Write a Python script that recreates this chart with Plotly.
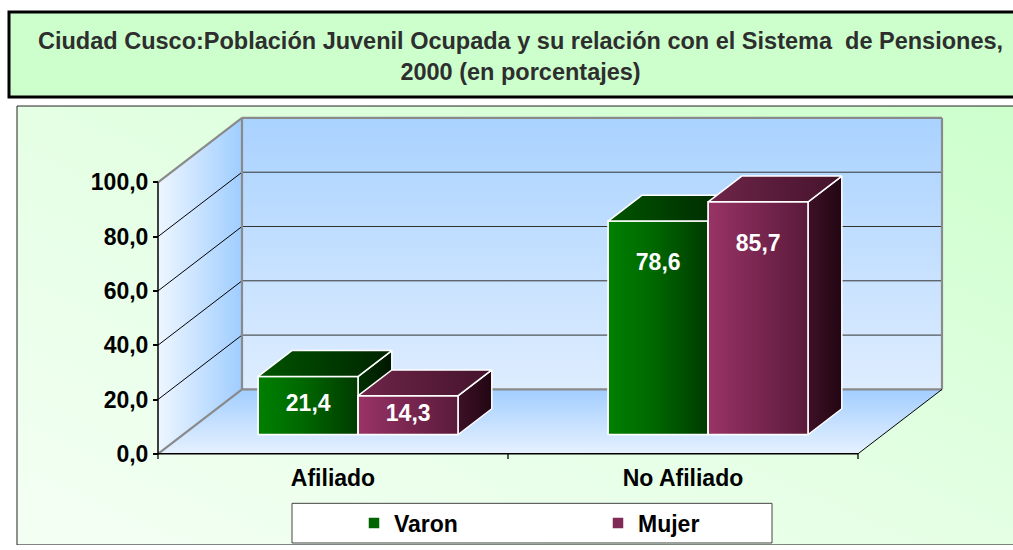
import base64
import plotly.graph_objects as go

# ---------------- data ----------------
categories = ["Afiliado", "No Afiliado"]
series_names = ["Varon", "Mujer"]
varon = [21.4, 78.6]
mujer = [14.3, 85.7]
y_ticks = [0, 20, 40, 60, 80, 100]
y_tick_labels = ["0,0", "20,0", "40,0", "60,0", "80,0", "100,0"]
title_lines = [
    "Ciudad Cusco:Población Juvenil Ocupada y su relación con el Sistema  de Pensiones,",
    "2000 (en porcentajes)",
]

# ---------------- geometry / style ----------------
W = 1013
H_FIG = 545                      # the page adds a few px below the figure
X0_PX, X_UNIT_PX = 158, 350      # front plane: x=0 at 158 px, one category = 350 px
Y0_PX, Y_UNIT_PX = 458, 2.74     # front plane: y=0 at 458 px, 1 % = 2.74 px
X_RANGE = [-0.03, 2.27]
Y_RANGE = [-3.0, 125.0]
DX = 84 / X_UNIT_PX              # depth of the box (x units)
DY = 65 / Y_UNIT_PX              # depth of the box (y units)
BAR_D0, BAR_D1 = 0.3, 0.7        # depth of bar front / back faces
BAR_W = 0.2857
FONT = "Liberation Sans, Arial, sans-serif"
FS = 23
N_CAT = len(categories)
VMAX = y_ticks[-1]


def px_x(v):
    return X0_PX + v * X_UNIT_PX


def px_y(v):
    return Y0_PX - v * Y_UNIT_PX


def fx(p):
    return p / W


def fy(p):
    return 1 - p / H_FIG


dom_x = [fx(px_x(X_RANGE[0])), fx(px_x(X_RANGE[1]))]
dom_y = [fy(px_y(Y_RANGE[0])), fy(px_y(Y_RANGE[1]))]


def P(x, v, d):
    return (x + d * DX, v + d * DY)


def poly(points, axes, grad=None, color=None, line=None):
    xs = [p[0] for p in points] + [points[0][0]]
    ys = [p[1] for p in points] + [points[0][1]]
    kw = dict(x=xs, y=ys, mode="lines", fill="toself", hoverinfo="skip",
              showlegend=False, xaxis=axes[0], yaxis=axes[1],
              line=line or dict(width=0, color="rgba(0,0,0,0)"))
    if grad is not None:
        kw["fillgradient"] = grad
    else:
        kw["fillcolor"] = color
    return go.Scatter(**kw)


def segs(pairs, axes, color, width):
    xs, ys = [], []
    for a, b in pairs:
        xs += [a[0], b[0], None]
        ys += [a[1], b[1], None]
    return go.Scatter(x=xs, y=ys, mode="lines", hoverinfo="skip", showlegend=False,
                      line=dict(color=color, width=width), xaxis=axes[0], yaxis=axes[1])


traces = []
A = ("x", "y")

# ---- walls & floor ----
traces.append(poly([P(0, 0, 0), P(0, 0, 1), P(0, VMAX, 1), P(0, VMAX, 0)], A,
                   grad=dict(type="horizontal", colorscale=[[0, "#eef6ff"], [1, "#9fcdff"]])))
traces.append(poly([P(0, 0, 1), P(N_CAT, 0, 1), P(N_CAT, VMAX, 1), P(0, VMAX, 1)], A,
                   grad=dict(type="vertical", colorscale=[[0, "#deedff"], [1, "#a9d2ff"]])))
traces.append(poly([P(0, 0, 0), P(N_CAT, 0, 0), P(N_CAT, 0, 1), P(0, 0, 1)], A,
                   grad=dict(type="vertical", colorscale=[[0, "#e6f1ff"], [1, "#a2ceff"]])))

# ---- gridlines ----
inner = y_ticks[1:-1]
traces.append(segs([(P(0, v, 0), P(0, v, 1)) for v in inner], A, "#000000", 1))
traces.append(segs([(P(0, v, 1), P(N_CAT, v, 1)) for v in inner], A, "#333333", 1))
# ---- wall borders (grey) ----
traces.append(segs([
    (P(0, 0, 0), P(0, 0, 1)),
    (P(0, VMAX, 0), P(0, VMAX, 1)),
    (P(0, 0, 1), P(0, VMAX, 1)),
    (P(0, VMAX, 1), P(N_CAT, VMAX, 1)),
    (P(N_CAT, VMAX, 1), P(N_CAT, 0, 1)),
    (P(0, 0, 1), P(N_CAT, 0, 1)),
], A, "#8a8a8a", 2.2))
# ---- front axis lines ----
traces.append(segs([(P(0, 0, 0), P(0, VMAX, 0)), (P(0, 0, 0), P(N_CAT, 0, 0))], A, "#000000", 1.5))
traces.append(segs([(P(N_CAT, 0, 0), P(N_CAT, 0, 1))], A, "#000000", 1))
traces.append(segs([((i, 0), (i, -1.9)) for i in range(N_CAT + 1)], A, "#000000", 1.3))

# ---- bars ----
series = [
    dict(name=series_names[0], vals=varon, axes=("x2", "y2"), off=-BAR_W,
         front="#006400",
         front_grad=[[0, "#008000"], [0.45, "#006800"], [1, "#003a00"]],
         top=[[0, "#005400"], [1, "#002400"]],
         side=[[0, "#003000"], [1, "#001800"]]),
    dict(name=series_names[1], vals=mujer, axes=("x3", "y3"), off=0.0,
         front="#7f2b56",
         front_grad=[[0, "#993366"], [1, "#5a1a3b"]],
         top=[[0, "#6e2549"], [1, "#45132c"]],
         side=[[0, "#3e1027"], [1, "#220612"]]),
]
edge = dict(color="white", width=1.5)
for s in series:
    centers = [i + 0.5 for i in range(N_CAT)]
    traces.append(go.Bar(
        x=[c + BAR_D0 * DX for c in centers], y=s["vals"], base=BAR_D0 * DY,
        width=BAR_W, offset=s["off"], name=s["name"],
        marker=dict(color=s["front"], line=edge),
        xaxis=s["axes"][0], yaxis=s["axes"][1], hoverinfo="skip"))
    lx, ly, lt = [], [], []
    for c, v in zip(centers, s["vals"]):
        xl = c + s["off"]
        xr = xl + BAR_W
        # shaded front face over the bar
        traces.append(poly([P(xl, 0, BAR_D0), P(xr, 0, BAR_D0), P(xr, v, BAR_D0), P(xl, v, BAR_D0)],
                           s["axes"], grad=dict(type="horizontal", colorscale=s["front_grad"]), line=edge))
        traces.append(poly([P(xr, 0, BAR_D0), P(xr, v, BAR_D0), P(xr, v, BAR_D1), P(xr, 0, BAR_D1)],
                           s["axes"], grad=dict(type="horizontal", colorscale=s["side"]), line=edge))
        traces.append(poly([P(xl, v, BAR_D0), P(xr, v, BAR_D0), P(xr, v, BAR_D1), P(xl, v, BAR_D1)],
                           s["axes"], grad=dict(type="horizontal", colorscale=s["top"]), line=edge))
        lx.append((xl + xr) / 2 + BAR_D0 * DX)
        ly.append(BAR_D0 * DY + v - min(v / 2, 16))
        lt.append(f"{v:.1f}".replace(".", ","))
    traces.append(go.Scatter(x=lx, y=ly, text=lt, mode="text", showlegend=False, hoverinfo="skip",
                             textfont=dict(family=FONT, size=FS, color="white", weight="bold"),
                             xaxis=s["axes"][0], yaxis=s["axes"][1]))

fig = go.Figure(traces)

# ---- background gradient of chart area ----
svg = ('<svg xmlns="http://www.w3.org/2000/svg" width="200" height="100" viewBox="0 0 100 100" '
       'preserveAspectRatio="none"><defs><linearGradient id="g" x1="0" y1="1" x2="1" y2="0">'
       '<stop offset="0" stop-color="#f4fff4"/><stop offset="0.5" stop-color="#e4ffe4"/>'
       '<stop offset="1" stop-color="#ccffcc"/></linearGradient></defs>'
       '<rect x="0" y="0" width="100" height="100" fill="url(#g)"/></svg>')
src = "data:image/svg+xml;base64," + base64.b64encode(svg.encode()).decode()
CH_L, CH_T = 17, 107
fig.add_layout_image(dict(source=src, xref="paper", yref="paper", x=fx(CH_L), y=fy(CH_T),
                          sizex=1 - fx(CH_L) + 0.01, sizey=fy(CH_T) + 0.01,
                          xanchor="left", yanchor="top", sizing="stretch", layer="below"))

shapes = [
    # chart area border
    dict(type="rect", xref="paper", yref="paper", x0=fx(CH_L), y0=fy(H_FIG + 5), x1=fx(W + 5), y1=fy(CH_T),
         line=dict(color="#222222", width=1), fillcolor="rgba(0,0,0,0)", layer="below"),
    # title box
    dict(type="rect", xref="paper", yref="paper", x0=fx(9), y0=fy(98), x1=fx(W + 10), y1=fy(12),
         line=dict(color="#000000", width=3), fillcolor="#ccffcc", layer="below"),
    # legend box
    dict(type="rect", xref="paper", yref="paper", x0=fx(292), y0=fy(548), x1=fx(772), y1=fy(508),
         line=dict(color="#444444", width=1), fillcolor="#ffffff", layer="below"),
]

axis_font = dict(family=FONT, size=FS, color="#000000", weight="bold")
fig.update_layout(
    width=W, height=H_FIG, autosize=False,
    margin=dict(l=0, r=0, t=0, b=0, pad=0),
    paper_bgcolor="#ffffff", plot_bgcolor="rgba(0,0,0,0)",
    showlegend=True,
    shapes=shapes,
    annotations=[dict(text="<br>".join(title_lines), xref="paper", yref="paper",
                      x=fx(520), y=fy(57), xanchor="center", yanchor="middle", showarrow=False,
                      font=dict(family=FONT, size=23.5, color="#2e2e2e", weight="bold"))],
    legend=dict(orientation="h", x=fx(354), xanchor="left", y=fy(528), yanchor="middle",
                bgcolor="rgba(0,0,0,0)", borderwidth=0, entrywidth=199, entrywidthmode="pixels",
                font=dict(family=FONT, size=FS, color="#000000", weight="bold")),
    xaxis=dict(domain=dom_x, range=X_RANGE, anchor="y", tickvals=[i + 0.5 for i in range(N_CAT)],
               ticktext=categories, ticks="", showline=False, showgrid=False, zeroline=False,
               tickfont=axis_font),
    yaxis=dict(domain=dom_y, range=Y_RANGE, anchor="free", position=fx(X0_PX),
               tickvals=y_ticks, ticktext=y_tick_labels, ticks="outside", ticklen=5,
               tickwidth=1.5, tickcolor="#000000", showline=False, showgrid=False,
               zeroline=False, tickfont=axis_font),
    xaxis2=dict(overlaying="x", range=X_RANGE, visible=False, anchor="y2"),
    yaxis2=dict(overlaying="y", range=Y_RANGE, visible=False, anchor="x2"),
    xaxis3=dict(overlaying="x", range=X_RANGE, visible=False, anchor="y3"),
    yaxis3=dict(overlaying="y", range=Y_RANGE, visible=False, anchor="x3"),
)

fig.write_html("out.html")
